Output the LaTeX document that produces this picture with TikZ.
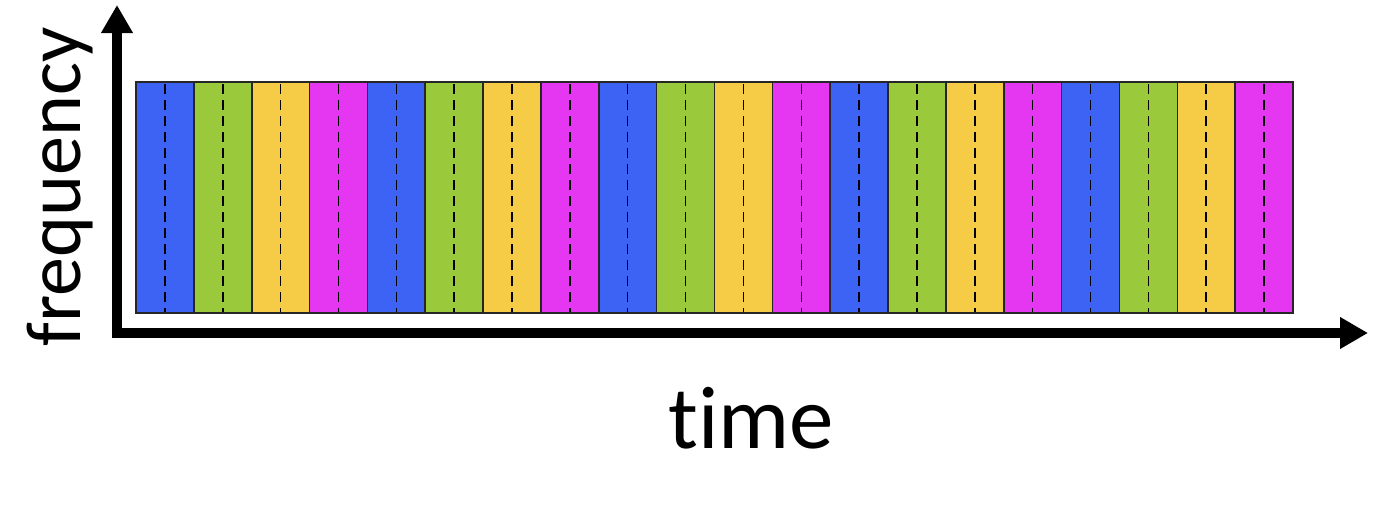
\documentclass[tikz,border=0pt]{standalone}
\usepackage{fontspec}
\setmainfont[Ligatures=NoCommon]{Carlito}
\usetikzlibrary{arrows.meta}
\definecolor{cblue}{RGB}{61,99,245}
\definecolor{cgreen}{RGB}{155,201,60}
\definecolor{cyellow}{RGB}{246,203,69}
\definecolor{cmag}{RGB}{229,54,242}
\tikzset{
  bar/.style={draw=black!85, line width=1.6pt},
  mid/.style={draw=black, line width=1.5pt, dash pattern=on 10pt off 6pt},
  axis/.style={line width=10pt, -{Triangle[length=28pt,width=30pt]}},
  lbl/.style={inner sep=0pt}
}
\begin{document}
\begin{tikzpicture}[x=1pt,y=-1pt]
\useasboundingbox (0,0) rectangle (1388,522);
\foreach \i [evaluate=\i as \xa using {136+57.85*\i}, evaluate=\i as \xb using {136+57.85*(\i+1)}, evaluate=\i as \xm using {136+57.85*(\i+0.5)}, evaluate=\i as \k using {int(mod(\i,4))}] in {0,...,19} {
  \ifcase\k \def\col{cblue}\or \def\col{cgreen}\or \def\col{cyellow}\or \def\col{cmag}\fi
  \path[bar, fill=\col] (\xa,82) rectangle (\xb,313);
  \draw[mid] (\xm,84) -- (\xm,312);
}
\coordinate (o) at (117,333);
\coordinate (ytip) at (117,5);
\coordinate (xtip) at (1368,333);
\draw[axis] (o) -- (ytip);
\draw[axis] ([xshift=-5pt]o) -- (xtip);
\node[lbl, anchor=base, font=\fontsize{89}{92}\selectfont] (time) at (751,448) {t\kern0pt ime};
\node[lbl, anchor=base, rotate=90, font=\fontsize{78}{82}\selectfont] (freq) at (80,187) {frequency};
\end{tikzpicture}
\end{document}
